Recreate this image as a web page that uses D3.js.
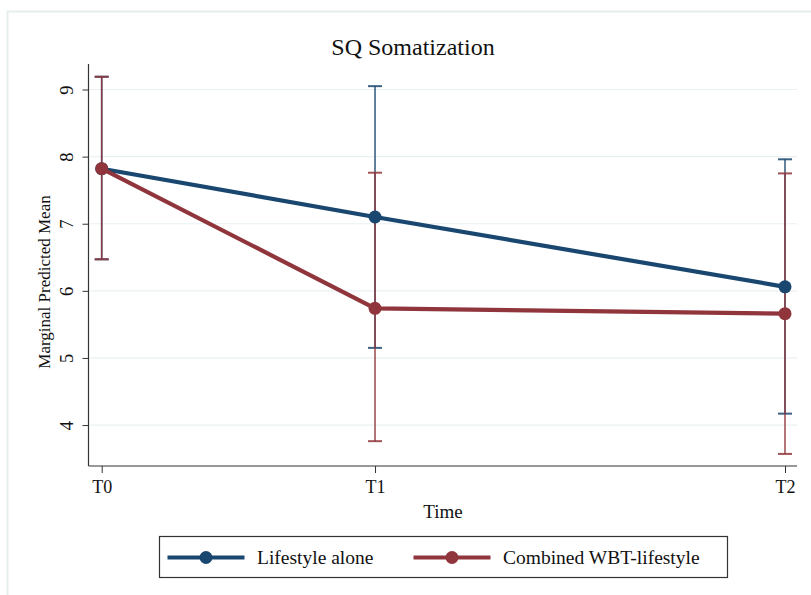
<!DOCTYPE html>
<html>
<head>
<meta charset="utf-8">
<script src="https://cdn.jsdelivr.net/npm/d3@7"></script>
<style>
  html, body { margin: 0; padding: 0; background: #fff; }
  svg { display: block; }
  svg text { font-family: "Liberation Serif", "DejaVu Serif", serif; }
</style>
</head>
<body>
<svg id="chart" width="811" height="595"></svg>
<script>
// Time points (months from baseline) and their axis labels
const timeLabels = ["T0", "T1", "T2"];
const timeValues = [0, 2, 5];
const yTicks = [4, 5, 6, 7, 8, 9];

// Marginal predicted means with 95% confidence limits
const lifestyleMean = [7.82, 7.10, 6.06];
const lifestyleLow  = [6.47, 5.15, 4.17];
const lifestyleHigh = [9.19, 9.05, 7.96];

const combinedMean = [7.82, 5.74, 5.66];
const combinedLow  = [6.47, 3.76, 3.57];
const combinedHigh = [9.19, 7.76, 7.75];

const seriesNames = ["Lifestyle alone", "Combined WBT-lifestyle"];
const seriesColors = ["#1a476f", "#90353b"];

const svg = d3.select("#chart");

// outer graph region frame
svg.append("rect")
  .attr("x", 7.5).attr("y", 11.5)
  .attr("width", 820).attr("height", 600)
  .attr("fill", "#ffffff")
  .attr("stroke", "#e6eeec").attr("stroke-width", 2);

const x = d3.scaleLinear().domain([0, 5]).range([101.7, 785]);
const y = d3.scaleLinear().domain([3.39, 9.38]).range([466, 64]);
const plotLeft = 88.5, plotRight = 797;

// horizontal grid lines
svg.append("g").selectAll("line").data(yTicks).join("line")
  .attr("x1", plotLeft + 1).attr("x2", plotRight)
  .attr("y1", d => y(d)).attr("y2", d => y(d))
  .attr("stroke", "#eaf1f3").attr("stroke-width", 1.2);

// y axis
const yAxis = svg.append("g")
  .attr("transform", `translate(${plotLeft},0)`)
  .call(d3.axisLeft(y).tickValues(yTicks).tickSize(6).tickPadding(0).tickFormat(d3.format("d")));
yAxis.attr("font-family", null).attr("font-size", null);
yAxis.select(".domain").attr("d", `M0,${y.range()[1]}V${y.range()[0]}`).attr("stroke", "#333").attr("stroke-width", 1.2);
yAxis.selectAll(".tick line").attr("stroke", "#333");
yAxis.selectAll(".tick text")
  .attr("x", 0).attr("dy", null)
  .attr("transform", "translate(-22,0) rotate(-90)")
  .attr("text-anchor", "middle")
  .attr("dominant-baseline", "central")
  .style("font-size", "18.5px")
  .attr("fill", "#111");

// x axis
const xAxis = svg.append("g")
  .attr("transform", "translate(0,466)")
  .call(d3.axisBottom(x).tickValues(timeValues).tickSize(7).tickPadding(6)
    .tickFormat((d, i) => timeLabels[i]));
xAxis.attr("font-family", null).attr("font-size", null);
xAxis.select(".domain").attr("d", `M${plotLeft},0H${plotRight}`).attr("stroke", "#333").attr("stroke-width", 1.2);
xAxis.selectAll(".tick line").attr("stroke", "#333");
xAxis.selectAll(".tick text")
  .attr("dy", "0.75em")
  .style("font-size", "18px")
  .attr("fill", "#111");

// axis titles and chart title
svg.append("text")
  .attr("x", 443).attr("y", 518)
  .attr("text-anchor", "middle")
  .style("font-size", "19px").attr("fill", "#111")
  .text("Time");

svg.append("text")
  .attr("transform", "translate(50,282) rotate(-90)")
  .attr("text-anchor", "middle")
  .style("font-size", "17px").attr("fill", "#111")
  .text("Marginal Predicted Mean");

svg.append("text")
  .attr("x", 413).attr("y", 55)
  .attr("text-anchor", "middle")
  .style("font-size", "24px").attr("fill", "#111")
  .text("SQ Somatization");

const series = [
  { mean: lifestyleMean, low: lifestyleLow, high: lifestyleHigh, color: seriesColors[0] },
  { mean: combinedMean,  low: combinedLow,  high: combinedHigh,  color: seriesColors[1] }
];

const capHalf = 7;

// confidence intervals
series.forEach(s => {
  const g = svg.append("g").attr("stroke", s.color).attr("stroke-opacity", 0.85).attr("stroke-width", 1.6);
  timeValues.forEach((t, i) => {
    g.append("line")
      .attr("x1", x(t)).attr("x2", x(t))
      .attr("y1", y(s.low[i])).attr("y2", y(s.high[i]));
    [s.low[i], s.high[i]].forEach(v => {
      g.append("line")
        .attr("x1", x(t) - capHalf).attr("x2", x(t) + capHalf)
        .attr("y1", y(v)).attr("y2", y(v))
        .attr("stroke-width", 2);
    });
  });
});

// mean lines with markers
const line = d3.line().x((d, i) => x(timeValues[i])).y(d => y(d));
series.forEach(s => {
  svg.append("path")
    .datum(s.mean)
    .attr("d", line)
    .attr("fill", "none")
    .attr("stroke", s.color)
    .attr("stroke-width", 4.2)
    .attr("stroke-linejoin", "round");
  svg.append("g").selectAll("circle").data(s.mean).join("circle")
    .attr("cx", (d, i) => x(timeValues[i]))
    .attr("cy", d => y(d))
    .attr("r", 6.5)
    .attr("fill", s.color);
});

// legend
const legend = svg.append("g");
legend.append("rect")
  .attr("x", 159.5).attr("y", 536.5)
  .attr("width", 568).attr("height", 41)
  .attr("fill", "#fff").attr("stroke", "#333").attr("stroke-width", 1.2);

const legendItems = [
  { name: seriesNames[0], color: seriesColors[0], x0: 167.5, tx: 257 },
  { name: seriesNames[1], color: seriesColors[1], x0: 413.5, tx: 503 }
];
legendItems.forEach(item => {
  legend.append("line")
    .attr("x1", item.x0).attr("x2", item.x0 + 77)
    .attr("y1", 557.5).attr("y2", 557.5)
    .attr("stroke", item.color).attr("stroke-width", 4.2);
  legend.append("circle")
    .attr("cx", item.x0 + 38.5).attr("cy", 557.5).attr("r", 6.5)
    .attr("fill", item.color);
  legend.append("text")
    .attr("x", item.tx).attr("y", 563.5)
    .style("font-size", "19.5px").attr("fill", "#111")
    .text(item.name);
});
</script>
</body>
</html>
